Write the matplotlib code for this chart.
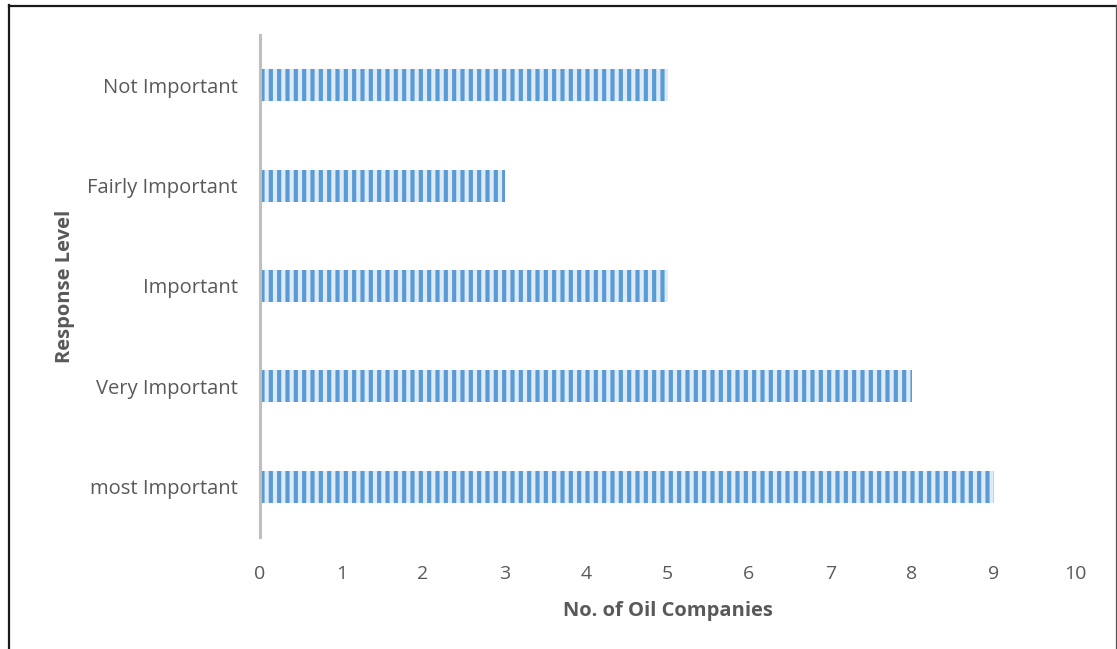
import matplotlib
matplotlib.use("Agg")
import matplotlib.pyplot as plt
from matplotlib.lines import Line2D

categories = ["most Important", "Very Important", "Important", "Fairly Important", "Not Important"]
companies = [9, 8, 5, 3, 5]
x_ticks = [0, 1, 2, 3, 4, 5, 6, 7, 8, 9, 10]

plt.rcParams["font.family"] = ["Open Sans", "DejaVu Sans"]
plt.rcParams["hatch.linewidth"] = 3.0
plt.rcParams["hatch.color"] = "#5B9BD5"

W, H = 1117, 649
fig = plt.figure(figsize=(W / 100, H / 100), dpi=100)
ax = fig.add_axes([260 / W, 1 - 537 / H, (1075 - 260) / W, (537 - 35) / H])

ypos = list(range(len(categories)))
ax.barh(ypos, companies, height=0.32, color="#DDEBF7",
        hatch="||", edgecolor="#5B9BD5", linewidth=0, zorder=1)

ax.set_xlim(0, 10)
ax.set_ylim(-0.5, len(categories) - 0.5)
ax.set_xticks(x_ticks)
ax.set_xticklabels([str(t) for t in x_ticks])
ax.set_yticks(ypos)
ax.set_yticklabels(categories)
ax.tick_params(axis="x", length=0, labelsize=14, colors="#595959", pad=20)
ax.tick_params(axis="y", length=0, labelsize=14.5, colors="#595959", pad=16)

for side in ("top", "right", "bottom"):
    ax.spines[side].set_visible(False)
ax.spines["left"].set_color("#BFBFBF")
ax.spines["left"].set_linewidth(2.2)
ax.spines["left"].set_zorder(3)

ax.set_xlabel("No. of Oil Companies", fontsize=14.5, fontweight="bold",
              color="#595959", labelpad=13)
ax.set_ylabel("Response Level", fontsize=14.5, fontweight="bold",
              color="#595959", labelpad=9)

# outer frame: left and top dark, right thin gray
fig.add_artist(Line2D([9.5 / W, 9.5 / W], [0, 1 - 5 / H], transform=fig.transFigure,
                      color="#1a1a1a", linewidth=1.6))
fig.add_artist(Line2D([9.5 / W, 1115.5 / W], [1 - 5.5 / H, 1 - 5.5 / H],
                      transform=fig.transFigure, color="#1a1a1a", linewidth=1.6))
fig.add_artist(Line2D([1115.5 / W, 1115.5 / W], [0, 1 - 5 / H], transform=fig.transFigure,
                      color="#555555", linewidth=0.9))

fig.savefig("out.png", dpi=100)
